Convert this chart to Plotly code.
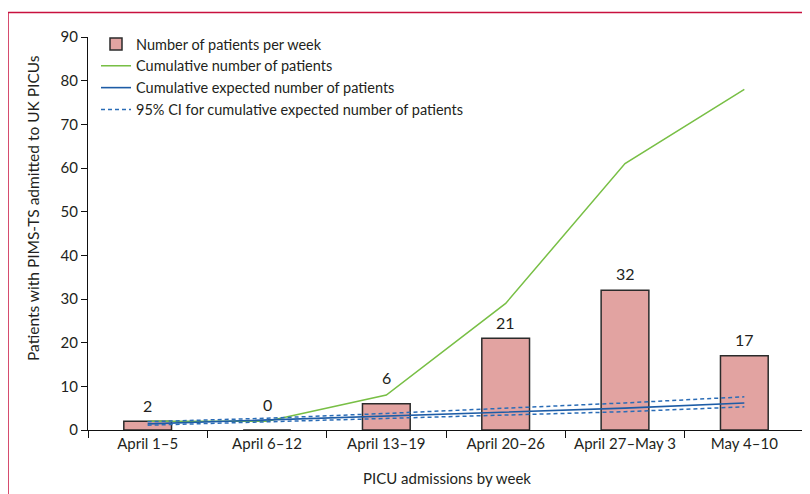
import plotly.graph_objects as go

weeks = ["April 1–5", "April 6–12", "April 13–19", "April 20–26", "April 27–May 3", "May 4–10"]
patients_per_week = [2, 0, 6, 21, 32, 17]
cumulative = [2, 2, 8, 29, 61, 78]
cum_expected = [1.4, 2.3, 3.1, 4.1, 5.0, 6.2]
ci_upper = [1.9, 2.7, 3.8, 5.0, 6.2, 7.6]
ci_lower = [1.1, 1.9, 2.6, 3.4, 4.2, 5.3]
y_ticks = [0, 10, 20, 30, 40, 50, 60, 70, 80, 90]

FONT = "Lato"
TXT = "#231f20"

fig = go.Figure()
fig.add_trace(go.Bar(
    x=weeks, y=patients_per_week, name="Number of patients per week",
    width=0.4, marker=dict(color="#e2a3a1", line=dict(color="#2b2b2b", width=1.5)),
))
fig.add_trace(go.Scatter(
    x=weeks, y=cumulative, mode="lines", name="Cumulative number of patients",
    line=dict(color="#78bf45", width=1.5),
))
fig.add_trace(go.Scatter(
    x=weeks, y=cum_expected, mode="lines", name="Cumulative expected number of patients",
    line=dict(color="#1d5ca6", width=1.6),
))
fig.add_trace(go.Scatter(
    x=weeks, y=ci_upper, mode="lines", name="95% CI for cumulative expected number of patients",
    line=dict(color="#2a6cb6", width=1.5, dash="4px,3px"), legendgroup="ci",
))
fig.add_trace(go.Scatter(
    x=weeks, y=ci_lower, mode="lines", name="95% CI lower", showlegend=False,
    line=dict(color="#2a6cb6", width=1.5, dash="4px,3px"), legendgroup="ci",
))

# page has an 8px body margin; figure coordinates = page coordinates - 8
OFF = 8
W, H = 810 - OFF, 494 - OFF
L, T = 88 - OFF, 37 - OFF
pw, ph = 716, 393
R = W - L - pw
B = H - T - ph

def px_x(px):
    return (px - OFF - L) / pw

def px_y(py):
    return (T + ph - (py - OFF)) / ph

fig.update_layout(
    width=W, height=H,
    margin=dict(l=L, r=R, t=T, b=B, autoexpand=False),
    plot_bgcolor="white", paper_bgcolor="white",
    font=dict(family=FONT, size=15, color=TXT),
    showlegend=True,
    legend=dict(
        x=px_x(96), y=px_y(28), xanchor="left", yanchor="top",
        bgcolor="rgba(0,0,0,0)", borderwidth=0,
        font=dict(size=14.5, family=FONT, color=TXT),
        itemwidth=30, tracegroupgap=0,
    ),
)
fig.update_xaxes(
    type="category", range=[-0.5, 5.5], showline=True, linecolor="#111", linewidth=1.3,
    ticks="outside", tickson="boundaries", ticklen=7, tickcolor="#111", tickwidth=1.3,
    tickfont=dict(size=15, family=FONT, color=TXT), showgrid=False, zeroline=False,
)
fig.update_yaxes(
    range=[0, 90], tickvals=y_ticks, showline=True, linecolor="#111", linewidth=1.3,
    ticks="outside", ticklen=6, tickcolor="#111", tickwidth=1.3,
    tickfont=dict(size=15, family=FONT, color=TXT), showgrid=False, zeroline=False,
)

# value labels above bars (lifted where the curves pass)
label_lift = [4, 14, 15, 4, 5, 5]
for wk, v, lift in zip(weeks, patients_per_week, label_lift):
    fig.add_annotation(
        x=wk, y=v, xref="x", yref="y", text=str(v), showarrow=False,
        yanchor="bottom", yshift=lift, font=dict(size=16, family=FONT, color=TXT),
    )

fig.add_annotation(
    text="PICU admissions by week", xref="paper", yref="paper",
    x=px_x(447), y=px_y(478), showarrow=False, xanchor="center", yanchor="middle",
    font=dict(size=15, family=FONT, color=TXT),
)
fig.add_annotation(
    text="Patients with PIMS-TS admitted to UK PICUs", xref="paper", yref="paper",
    x=px_x(33), y=px_y(208), showarrow=False, textangle=-90,
    xanchor="center", yanchor="middle",
    font=dict(size=15.5, family=FONT, color=TXT),
)

border = "#c8103e"
fig.add_shape(type="line", xref="paper", yref="paper",
              x0=px_x(8), x1=px_x(815), y0=px_y(12.5), y1=px_y(12.5),
              line=dict(color=border, width=1.5))
fig.add_shape(type="line", xref="paper", yref="paper",
              x0=px_x(8), x1=px_x(8), y0=px_y(12.5), y1=px_y(500),
              line=dict(color=border, width=1.5))

fig.write_html("out.html")
